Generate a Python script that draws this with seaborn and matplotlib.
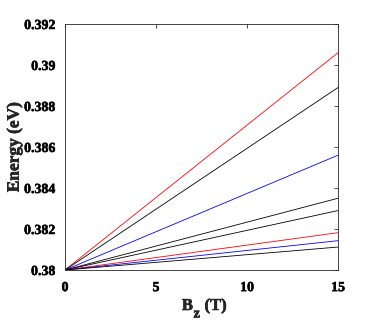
import matplotlib
matplotlib.use("Agg")
import matplotlib.pyplot as plt
import matplotlib.patheffects as pe
import seaborn as sns
import pandas as pd

# Data
bz = [0, 15]
series_names = ["s1", "s2", "s3", "s4", "s5", "s6", "s7", "s8"]
series_colors = ["red", "black", "blue", "black", "black", "red", "blue", "black"]
start_vals = [0.38, 0.38, 0.38, 0.38, 0.38, 0.38, 0.38, 0.38]
end_vals = [0.3906, 0.3889, 0.3856, 0.3835, 0.3829, 0.38182, 0.38143, 0.38112]
yticks = [0.38, 0.382, 0.384, 0.386, 0.388, 0.39, 0.392]
ytick_labels = ["0.38", "0.382", "0.384", "0.386", "0.388", "0.39", "0.392"]
xticks = [0, 5, 10, 15]
xlabel_parts = ["B", "z", "(T)"]
ylabel_text = "Energy (eV)"

rows = []
for name, s, e in zip(series_names, start_vals, end_vals):
    rows.append({"Bz": bz[0], "E": s, "series": name})
    rows.append({"Bz": bz[1], "E": e, "series": name})
df = pd.DataFrame(rows)

sns.set_style("white")
plt.rcParams["font.family"] = ["Liberation Serif", "DejaVu Serif"]
plt.rcParams["font.weight"] = "bold"

thick = [pe.withStroke(linewidth=0.35, foreground="black")]

fig = plt.figure(figsize=(3.74, 3.24), dpi=100)
ax = fig.add_axes([65/374, 54/324, (338-65)/374, (270-24)/324])

palette = dict(zip(series_names, series_colors))
sns.lineplot(data=df, x="Bz", y="E", hue="series", palette=palette,
             linewidth=0.6, legend=False, ax=ax)

ax.set_xlim(0, 15)
ax.set_ylim(0.38, 0.392)
ax.set_xticks(xticks)
ax.set_xticklabels([str(t) for t in xticks])
ax.set_yticks(yticks)
ax.set_yticklabels(ytick_labels)
ax.tick_params(direction="in", length=3, width=0.5, labelsize=10,
               top=True, right=True, colors="black")
ax.tick_params(axis="y", pad=7)
ax.tick_params(axis="x", pad=8)
for lab in ax.get_xticklabels() + ax.get_yticklabels():
    lab.set_fontweight("bold")
    lab.set_path_effects(thick)
for sp in ax.spines.values():
    sp.set_visible(True)
    sp.set_linewidth(0.6)
    sp.set_color("#262626")

ax.set_xlabel("")
ax.set_ylabel(ylabel_text, fontsize=12.5, fontweight="bold", labelpad=1,
              path_effects=thick)

lab_fs = 12
ax.text(0.428, -0.1626, xlabel_parts[0], transform=ax.transAxes, ha="left",
        va="baseline", fontsize=lab_fs, fontweight="bold", path_effects=thick)
ax.text(0.4707, -0.193, xlabel_parts[1], transform=ax.transAxes, ha="left",
        va="baseline", fontsize=10.5, fontweight="bold", path_effects=thick)
ax.text(0.511, -0.1626, xlabel_parts[2], transform=ax.transAxes, ha="left",
        va="baseline", fontsize=lab_fs, fontweight="bold", path_effects=thick)

fig.savefig("out.png", dpi=100)
